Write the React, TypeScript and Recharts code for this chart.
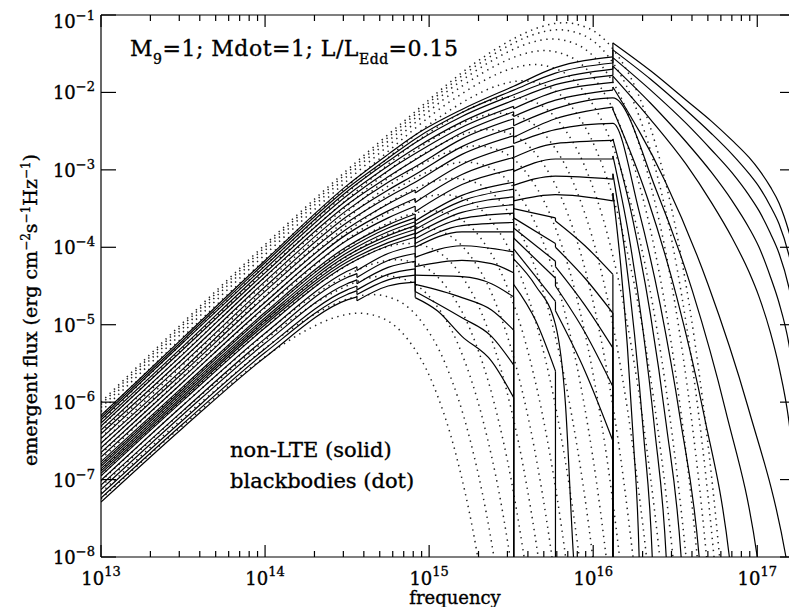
import { LineChart, Line, XAxis, YAxis, ReferenceLine } from 'recharts';

// all values are log10(frequency / Hz) and log10(flux)
// a repeated frequency marks an absorption edge (vertical jump)

// non-LTE spectra, hottest annulus first
const nlte01 = [[13, -6.17], [13.5, -5.17], [14, -4.17], [14.5, -3.2], [14.75, -2.8], [14.915, -2.55], [15.2, -2.22], [15.515, -1.92], [15.77, -1.68], [16.12, -1.54], [16.12, -1.36], [16.35, -1.72], [16.567, -2.1], [16.72, -2.37], [16.847, -2.62], [16.95, -2.84], [17.011, -3.0], [17.08, -3.22], [17.133, -3.43], [17.193, -3.8], [17.24, -4.2]];
const nlte02 = [[13, -6.2], [13.5, -5.2], [14, -4.2], [14.5, -3.24], [14.75, -2.85], [14.915, -2.6], [15.2, -2.26], [15.515, -1.97], [15.77, -1.75], [16.12, -1.62], [16.12, -1.45], [16.35, -1.83], [16.567, -2.23], [16.72, -2.53], [16.847, -2.8], [16.95, -3.05], [17.011, -3.22], [17.08, -3.47], [17.133, -3.7], [17.193, -4.1], [17.24, -4.55]];
const nlte03 = [[13, -6.23], [13.5, -5.23], [14, -4.24], [14.5, -3.28], [14.75, -2.89], [14.915, -2.65], [15.2, -2.31], [15.515, -2.03], [15.77, -1.83], [16.12, -1.7], [16.12, -1.55], [16.35, -1.97], [16.567, -2.4], [16.72, -2.74], [16.847, -3.04], [16.95, -3.33], [17.011, -3.53], [17.08, -3.82], [17.133, -4.08], [17.193, -4.52], [17.24, -5.05]];
const nlte04 = [[13, -6.27], [13.5, -5.28], [14, -4.28], [14.5, -3.33], [14.75, -2.95], [14.915, -2.72], [15.2, -2.38], [15.515, -2.1], [15.77, -1.9], [16.12, -1.78], [16.12, -1.66], [16.35, -2.14], [16.567, -2.64], [16.72, -3.03], [16.847, -3.4], [16.95, -3.75], [17.011, -4.0], [17.08, -4.38], [17.133, -4.72], [17.193, -5.25], [17.24, -5.95]];
const nlte05 = [[13, -6.31], [13.5, -5.32], [14, -4.33], [14.5, -3.39], [14.75, -3.01], [14.915, -2.79], [15.2, -2.45], [15.515, -2.18], [15.515, -2.21], [15.77, -1.99], [16.12, -1.87], [16.12, -1.79], [16.35, -2.35], [16.567, -2.93], [16.72, -3.42], [16.847, -3.88], [16.95, -4.32], [17.011, -4.64], [17.08, -5.1], [17.133, -5.55], [17.193, -6.25], [17.24, -7.2]];
const nlte06 = [[13, -6.36], [13.5, -5.38], [14, -4.38], [14.5, -3.45], [14.75, -3.09], [14.915, -2.87], [15.2, -2.52], [15.515, -2.25], [15.515, -2.31], [15.77, -2.1], [16.12, -1.97], [16.12, -1.93], [16.437, -3.14], [16.7, -4.48], [16.943, -6.06], [17.175, -8.0], [17.23, -8.7]];
const nlte07 = [[13, -6.41], [13.5, -5.44], [14, -4.44], [14.5, -3.52], [14.75, -3.16], [14.915, -2.96], [15.2, -2.6], [15.515, -2.34], [15.515, -2.43], [15.77, -2.21], [16.12, -2.07], [16.384, -3.26], [16.604, -4.56], [16.806, -6.1], [17.0, -8.0], [17.044, -8.7]];
const nlte08 = [[13, -6.47], [13.5, -5.5], [14, -4.51], [14.5, -3.6], [14.75, -3.26], [14.915, -3.06], [15.2, -2.7], [15.515, -2.45], [15.515, -2.58], [15.77, -2.34], [16.12, -2.19], [16.12, -2.22], [16.333, -3.38], [16.51, -4.65], [16.674, -6.15], [16.83, -8.0], [16.866, -8.7]];
const nlte09 = [[13, -6.53], [13.5, -5.57], [14, -4.57], [14.5, -3.68], [14.75, -3.35], [14.915, -3.16], [15.2, -2.8], [15.515, -2.56], [15.515, -2.66], [15.77, -2.48], [16.12, -2.4], [16.278, -3.52], [16.409, -4.75], [16.53, -6.21], [16.646, -8.0], [16.672, -8.7]];
const nlte10 = [[13, -6.59], [13.5, -5.62], [14, -4.64], [14.5, -3.76], [14.75, -3.44], [14.915, -3.26], [14.915, -3.3], [15.2, -2.93], [15.515, -2.69], [15.515, -2.84], [15.77, -2.66], [16.12, -2.62], [16.12, -2.6], [16.245, -3.68], [16.349, -4.87], [16.444, -6.27], [16.536, -8.0], [16.557, -8.7]];
const nlte11 = [[13, -6.65], [13.5, -5.68], [14, -4.71], [14.5, -3.83], [14.75, -3.53], [14.915, -3.37], [14.915, -3.42], [15.2, -3.06], [15.515, -2.84], [15.515, -3.02], [15.77, -2.86], [16.12, -2.86], [16.12, -2.82], [16.218, -3.86], [16.299, -5.0], [16.374, -6.34], [16.445, -8.0], [16.461, -8.7]];
const nlte12 = [[13, -6.71], [13.5, -5.74], [14, -4.77], [14.5, -3.91], [14.75, -3.62], [14.915, -3.47], [14.915, -3.54], [15.2, -3.19], [15.515, -2.99], [15.515, -3.2], [15.77, -3.08], [16.12, -3.12], [16.12, -3.05], [16.192, -4.04], [16.252, -5.13], [16.307, -6.42], [16.36, -8.0], [16.372, -8.7]];
const nlte13 = [[13, -6.77], [13.5, -5.8], [14, -4.84], [14.5, -3.99], [14.75, -3.71], [14.915, -3.57], [14.915, -3.66], [15.2, -3.33], [15.515, -3.16], [15.515, -3.4], [15.77, -3.32], [16.12, -3.4], [16.12, -3.3], [16.168, -4.24], [16.208, -5.27], [16.245, -6.5], [16.28, -8.0], [16.288, -8.7]];
const nlte14 = [[13, -6.8], [13.5, -5.83], [14, -4.87], [14.5, -4.03], [14.75, -3.75], [14.915, -3.62], [14.915, -3.71], [15.2, -3.4], [15.515, -3.25], [15.515, -3.5], [15.77, -3.62], [15.77, -3.66], [15.95, -3.98], [16.12, -4.35], [16.12, -9]];
const nlte15 = [[13, -6.83], [13.5, -5.86], [14, -4.91], [14.5, -4.07], [14.75, -3.8], [14.915, -3.67], [14.915, -3.77], [15.2, -3.47], [15.515, -3.35], [15.515, -3.62], [15.77, -3.95], [15.77, -4.0], [15.95, -4.4], [16.12, -4.85], [16.12, -9]];
const nlte16 = [[13, -6.86], [13.5, -5.89], [14, -4.94], [14.5, -4.11], [14.75, -3.85], [14.915, -3.72], [14.915, -3.83], [15.2, -3.55], [15.515, -3.45], [15.515, -3.75], [15.77, -4.18], [15.77, -4.25], [15.95, -4.75], [16.12, -5.3], [16.12, -9]];
const nlte17 = [[13, -6.89], [13.5, -5.92], [14, -4.97], [14.5, -4.15], [14.75, -3.89], [14.915, -3.77], [14.915, -3.89], [15.2, -3.63], [15.515, -3.56], [15.515, -3.88], [15.77, -4.4], [15.77, -4.5], [15.95, -5.1], [16.12, -5.8], [16.12, -9]];
const nlte18 = [[13, -6.92], [13.5, -5.95], [14, -5.0], [14.5, -4.19], [14.75, -3.94], [14.915, -3.82], [14.915, -3.95], [15.2, -3.72], [15.515, -3.68], [15.515, -4.02], [15.77, -4.7], [15.77, -4.82], [15.95, -5.6], [16.12, -6.5], [16.12, -9]];
const nlte19 = [[13, -6.95], [13.5, -5.98], [14, -5.04], [14.5, -4.23], [14.75, -3.98], [14.915, -3.87], [14.915, -4.0], [15.2, -3.8], [15.515, -3.8], [15.515, -4.15], [15.65, -4.5], [15.77, -5.0], [15.83, -6.0], [15.88, -8.0], [15.9, -8.6]];
const nlte20 = [[13, -7.01], [13.5, -6.04], [14, -5.11], [14.5, -4.31], [14.56, -4.25], [14.56, -4.3], [14.75, -4.08], [14.915, -3.98], [14.915, -4.13], [15.2, -3.98], [15.515, -4.06], [15.515, -4.48], [15.65, -4.95], [15.77, -5.6], [15.77, -9]];
const nlte21 = [[13, -7.07], [13.5, -6.11], [14, -5.18], [14.5, -4.39], [14.56, -4.34], [14.56, -4.39], [14.75, -4.17], [14.915, -4.08], [14.915, -4.25], [15.2, -4.17], [15.38, -4.21], [15.515, -4.33], [15.515, -9]];
const nlte22 = [[13, -7.13], [13.5, -6.16], [14, -5.24], [14.5, -4.47], [14.56, -4.42], [14.56, -4.47], [14.75, -4.26], [14.915, -4.18], [14.915, -4.36], [15.2, -4.38], [15.38, -4.47], [15.515, -4.64], [15.515, -9]];
const nlte23 = [[13, -7.19], [13.5, -6.23], [14, -5.31], [14.5, -4.55], [14.56, -4.5], [14.56, -4.55], [14.75, -4.35], [14.915, -4.28], [14.915, -4.48], [15.2, -4.65], [15.38, -4.81], [15.515, -5.07], [15.515, -9]];
const nlte24 = [[13, -7.24], [13.5, -6.28], [14, -5.36], [14.5, -4.61], [14.56, -4.56], [14.56, -4.61], [14.75, -4.42], [14.915, -4.36], [14.915, -4.57], [15.2, -4.91], [15.38, -5.15], [15.515, -5.52], [15.515, -9]];
const nlte25 = [[13, -7.29], [13.5, -6.33], [14, -5.42], [14.5, -4.68], [14.56, -4.64], [14.56, -4.69], [14.75, -4.5], [14.915, -4.45], [14.915, -4.65], [15.05, -4.82], [15.2, -5.15], [15.38, -5.47], [15.515, -5.94], [15.515, -9]];

// blackbodies of the same annuli
const bb01 = [[13, -6.0], [14.82, -2.42], [15.32, -1.56], [15.52, -1.3], [15.67, -1.16], [15.82, -1.1], [15.97, -1.17], [16.12, -1.44], [16.27, -2.0], [16.42, -2.98], [16.52, -3.94], [16.62, -5.23], [16.72, -6.93], [16.82, -9.15]];
const bb02 = [[13, -6.03], [14.79, -2.51], [15.29, -1.65], [15.49, -1.39], [15.64, -1.25], [15.79, -1.19], [15.94, -1.26], [16.09, -1.53], [16.24, -2.09], [16.39, -3.07], [16.49, -4.03], [16.59, -5.32], [16.69, -7.02], [16.79, -9.24]];
const bb03 = [[13, -6.07], [14.75, -2.63], [15.25, -1.77], [15.45, -1.51], [15.6, -1.37], [15.75, -1.31], [15.9, -1.38], [16.05, -1.65], [16.2, -2.21], [16.35, -3.19], [16.45, -4.15], [16.55, -5.44], [16.65, -7.14], [16.75, -9.36]];
const bb04 = [[13, -6.12], [14.7, -2.78], [15.2, -1.92], [15.4, -1.66], [15.55, -1.52], [15.7, -1.46], [15.85, -1.53], [16.0, -1.8], [16.15, -2.36], [16.3, -3.34], [16.4, -4.3], [16.5, -5.59], [16.6, -7.29], [16.7, -9.51]];
const bb05 = [[13, -6.18], [14.64, -2.96], [15.14, -2.1], [15.34, -1.84], [15.49, -1.7], [15.64, -1.64], [15.79, -1.71], [15.94, -1.98], [16.09, -2.54], [16.24, -3.52], [16.34, -4.48], [16.44, -5.77], [16.54, -7.47], [16.64, -9.69]];
const bb06 = [[13, -6.25], [14.57, -3.17], [15.07, -2.31], [15.27, -2.05], [15.42, -1.91], [15.57, -1.85], [15.72, -1.92], [15.87, -2.19], [16.02, -2.75], [16.17, -3.73], [16.27, -4.69], [16.37, -5.98], [16.47, -7.68], [16.57, -9.9]];
const bb07 = [[13, -6.32], [14.5, -3.38], [15.0, -2.52], [15.2, -2.26], [15.35, -2.12], [15.5, -2.06], [15.65, -2.13], [15.8, -2.4], [15.95, -2.96], [16.1, -3.94], [16.2, -4.9], [16.3, -6.19], [16.4, -7.89], [16.5, -10.11]];
const bb08 = [[13, -6.39], [14.43, -3.59], [14.93, -2.73], [15.13, -2.47], [15.28, -2.33], [15.43, -2.27], [15.58, -2.34], [15.73, -2.61], [15.88, -3.17], [16.03, -4.15], [16.13, -5.11], [16.23, -6.4], [16.33, -8.1], [16.43, -10.3]];
const bb09 = [[13, -6.46], [14.36, -3.8], [14.86, -2.94], [15.06, -2.68], [15.21, -2.54], [15.36, -2.48], [15.51, -2.55], [15.66, -2.82], [15.81, -3.38], [15.96, -4.36], [16.06, -5.32], [16.16, -6.61], [16.26, -8.31]];
const bb10 = [[13, -6.53], [14.29, -4.01], [14.79, -3.15], [14.99, -2.89], [15.14, -2.75], [15.29, -2.69], [15.44, -2.76], [15.59, -3.03], [15.74, -3.59], [15.89, -4.57], [15.99, -5.53], [16.09, -6.82], [16.19, -8.52]];
const bb11 = [[13, -6.6], [14.22, -4.22], [14.72, -3.36], [14.92, -3.1], [15.07, -2.96], [15.22, -2.9], [15.37, -2.97], [15.52, -3.24], [15.67, -3.8], [15.82, -4.78], [15.92, -5.74], [16.02, -7.03], [16.12, -8.73]];
const bb12 = [[13, -6.67], [14.15, -4.43], [14.65, -3.57], [14.85, -3.31], [15.0, -3.17], [15.15, -3.11], [15.3, -3.18], [15.45, -3.45], [15.6, -4.01], [15.75, -4.99], [15.85, -5.95], [15.95, -7.24], [16.05, -8.94]];
const bb13 = [[13, -6.74], [14.08, -4.64], [14.58, -3.78], [14.78, -3.52], [14.93, -3.38], [15.08, -3.32], [15.23, -3.39], [15.38, -3.66], [15.53, -4.22], [15.68, -5.2], [15.78, -6.16], [15.88, -7.45], [15.98, -9.15]];
const bb14 = [[13, -6.81], [14.01, -4.85], [14.51, -3.99], [14.71, -3.73], [14.86, -3.59], [15.01, -3.53], [15.16, -3.6], [15.31, -3.87], [15.46, -4.43], [15.61, -5.41], [15.71, -6.37], [15.81, -7.66], [15.91, -9.36]];
const bb15 = [[13, -6.88], [13.94, -5.06], [14.44, -4.2], [14.64, -3.94], [14.79, -3.8], [14.94, -3.74], [15.09, -3.81], [15.24, -4.08], [15.39, -4.64], [15.54, -5.62], [15.64, -6.58], [15.74, -7.87], [15.84, -9.57]];
const bb16 = [[13, -6.95], [13.87, -5.27], [14.37, -4.41], [14.57, -4.15], [14.72, -4.01], [14.87, -3.95], [15.02, -4.02], [15.17, -4.29], [15.32, -4.85], [15.47, -5.83], [15.57, -6.79], [15.67, -8.08], [15.77, -9.8]];
const bb17 = [[13, -7.02], [13.8, -5.48], [14.3, -4.62], [14.5, -4.36], [14.65, -4.22], [14.8, -4.16], [14.95, -4.23], [15.1, -4.5], [15.25, -5.06], [15.4, -6.04], [15.5, -7.0], [15.6, -8.29]];
const bb18 = [[13, -7.09], [13.73, -5.69], [14.23, -4.83], [14.43, -4.57], [14.58, -4.43], [14.73, -4.37], [14.88, -4.44], [15.03, -4.71], [15.18, -5.27], [15.33, -6.25], [15.43, -7.21], [15.53, -8.5]];
const bb19 = [[13, -7.17], [13.65, -5.93], [14.15, -5.07], [14.35, -4.81], [14.5, -4.67], [14.65, -4.61], [14.8, -4.68], [14.95, -4.95], [15.1, -5.51], [15.25, -6.49], [15.35, -7.45], [15.45, -8.74]];
const bb20 = [[13, -7.25], [13.57, -6.17], [14.07, -5.31], [14.27, -5.05], [14.42, -4.91], [14.57, -4.85], [14.72, -4.92], [14.87, -5.19], [15.02, -5.75], [15.17, -6.73], [15.27, -7.69], [15.37, -8.98]];

const nlteCurves = [nlte01, nlte02, nlte03, nlte04, nlte05, nlte06, nlte07, nlte08, nlte09, nlte10, nlte11,
  nlte12, nlte13, nlte14, nlte15, nlte16, nlte17, nlte18, nlte19, nlte20, nlte21, nlte22, nlte23, nlte24, nlte25];
const bbCurves = [bb01, bb02, bb03, bb04, bb05, bb06, bb07, bb08, bb09, bb10, bb11, bb12, bb13, bb14,
  bb15, bb16, bb17, bb18, bb19, bb20];

const xDecades = [13, 14, 15, 16, 17];
const yDecades = [-8, -7, -6, -5, -4, -3, -2, -1];
const X_MIN = 13;
const X_MAX = 17.23;

const xTicks: number[] = [];
xDecades.forEach(d => {
  for (let m = 1; m <= 9; m++) {
    const v = d + Math.log10(m);
    if (v <= X_MAX) xTicks.push(v);
  }
});

const FONT = "'DejaVu Serif', serif";
const W = 789;
const H = 599;
const PLOT_TOP = 7;
const PLOT_RIGHT = 787;

const toRows = (c: number[][]) => c.map(([x, y]) => ({ x, y }));

// smooth pieces between edges, and the vertical jumps at the edges
function splitAtEdges(c: number[][]) {
  const pieces: number[][][] = [];
  const jumps: number[][][] = [];
  let cur = [c[0]];
  for (let i = 1; i < c.length; i++) {
    if (c[i][0] === c[i - 1][0]) {
      pieces.push(cur);
      jumps.push([c[i - 1], c[i]]);
      cur = [c[i]];
    } else {
      cur.push(c[i]);
    }
  }
  pieces.push(cur);
  return { pieces: pieces.filter(p => p.length > 1), jumps };
}

const nlteParts = nlteCurves.map(splitAtEdges);

const txt = { fontFamily: FONT, fill: '#000', stroke: '#000', strokeWidth: 0.35 };

function XTick({ x, y, payload }: any) {
  const v = payload.value;
  const major = Math.abs(v - Math.round(v)) < 1e-6;
  const len = major ? 12 : 6;
  return (
    <g>
      <line x1={x} y1={y} x2={x} y2={y - len} stroke="#000" strokeWidth={1.2} />
      <line x1={x} y1={PLOT_TOP} x2={x} y2={PLOT_TOP + len} stroke="#000" strokeWidth={1.2} />
      {major && (
        <text x={x} y={y + 28} textAnchor="middle" fontSize={18} {...txt}>
          10<tspan dy={-9} fontSize={13}>{Math.round(v)}</tspan>
        </text>
      )}
    </g>
  );
}

function YTick({ x, y, payload }: any) {
  const v = Math.round(payload.value);
  const base = v === -1 ? 13 : 7;
  return (
    <g>
      <line x1={x} y1={y} x2={x + 15} y2={y} stroke="#000" strokeWidth={1.2} />
      <line x1={PLOT_RIGHT - 15} y1={y} x2={PLOT_RIGHT} y2={y} stroke="#000" strokeWidth={1.2} />
      <text x={x - 6} y={y + base} textAnchor="end" fontSize={18} {...txt}>
        10<tspan dy={-8} fontSize={13}>{'\u2212' + Math.abs(v)}</tspan>
      </text>
    </g>
  );
}

export default function App() {
  return (
    <div style={{ position: 'relative', width: W, height: H }}>
      <LineChart width={W} height={H} margin={{ top: PLOT_TOP, right: W - PLOT_RIGHT, left: 33, bottom: 20 }}>
        <XAxis xAxisId="b" type="number" dataKey="x" domain={[X_MIN, X_MAX]} allowDataOverflow
          ticks={xTicks} interval={0} tickSize={0} tickMargin={0} height={30}
          tick={<XTick />} axisLine={{ stroke: '#000', strokeWidth: 1.2 }} tickLine={false} />
        <YAxis yAxisId="l" type="number" domain={[-8, -1]} allowDataOverflow
          ticks={yDecades} interval={0} tickSize={0} tickMargin={0} width={60}
          tick={<YTick />} axisLine={{ stroke: '#000', strokeWidth: 1.2 }} tickLine={false} />
        <ReferenceLine xAxisId="b" yAxisId="l" y={-1} stroke="#000" strokeWidth={1.2} />
        <ReferenceLine xAxisId="b" yAxisId="l" x={X_MAX} stroke="#000" strokeWidth={1.2} />
        {bbCurves.map((c, i) => (
          <Line key={`bb-${i}`} xAxisId="b" yAxisId="l" data={toRows(c)} dataKey="y" type="monotone"
            stroke="#222" strokeWidth={1.5} strokeDasharray="1.4 4.6" dot={false}
            isAnimationActive={false} legendType="none" />
        ))}
        {nlteParts.map((p, i) => p.pieces.map((seg, j) => (
          <Line key={`nl-${i}-${j}`} xAxisId="b" yAxisId="l" data={toRows(seg)} dataKey="y" type="monotone"
            stroke="#000" strokeWidth={1.2} dot={false} isAnimationActive={false} legendType="none" />
        )))}
        {nlteParts.map((p, i) => p.jumps.map((seg, j) => (
          <Line key={`nj-${i}-${j}`} xAxisId="b" yAxisId="l" data={toRows(seg)} dataKey="y" type="linear"
            stroke="#000" strokeWidth={1.2} dot={false} isAnimationActive={false} legendType="none" />
        )))}
      </LineChart>
      <svg width={W} height={H} style={{ position: 'absolute', left: 0, top: 0, pointerEvents: 'none' }}>
        <text x={122} y={48} fontSize={22} letterSpacing={0.5} {...txt}>
          M<tspan dy={8} fontSize={14}>9</tspan><tspan dy={-8}>=1; Mdot=1; L/L</tspan>
          <tspan dy={8} fontSize={14}>Edd</tspan><tspan dy={-8}>=0.15</tspan>
        </text>
        <text x={222} y={449} fontSize={21} {...txt}>non-LTE (solid)</text>
        <text x={222} y={480} fontSize={21} {...txt}>blackbodies (dot)</text>
        <text x={447} y={596} textAnchor="middle" fontSize={18} {...txt}>frequency</text>
        <text x={29} y={302} textAnchor="middle" transform="rotate(-90 29 302)" fontSize={19} {...txt}>
          emergent flux (erg cm<tspan dy={-7} fontSize={12}>{'\u22122'}</tspan>
          <tspan dy={7}>s</tspan><tspan dy={-7} fontSize={12}>{'\u22121'}</tspan>
          <tspan dy={7}>Hz</tspan><tspan dy={-7} fontSize={12}>{'\u22121'}</tspan><tspan dy={7}>)</tspan>
        </text>
      </svg>
    </div>
  );
}
